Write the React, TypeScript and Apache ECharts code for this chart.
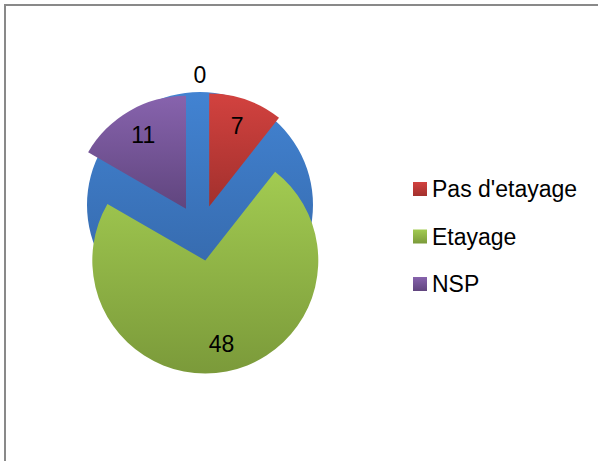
import React, { useEffect, useRef } from 'react';
import * as echarts from 'echarts';

const categories = ['Non renseigné', "Pas d'etayage", 'Etayage', 'NSP'];
const values = [0, 7, 48, 11];
const legendItems = ["Pas d'etayage", 'Etayage', 'NSP'];
const topColors = ['#4283d2', '#d2423f', '#a2cb51', '#8763ad'];
const bottomColors = ['#3364a4', '#a2302d', '#7b9a3a', '#60457e'];

const FONT = 'Liberation Sans';

function grad(i: number) {
  return new echarts.graphic.LinearGradient(0, 0, 0, 1, [
    { offset: 0, color: topColors[i] },
    { offset: 1, color: bottomColors[i] },
  ]);
}

export default function App() {
  const ref = useRef<HTMLDivElement>(null);
  useEffect(() => {
    if (!ref.current) return;
    const chart = echarts.init(ref.current, undefined, { renderer: 'svg' });
    const center = [200, 233];
    const R = 113;
    const explode = 28;
    chart.setOption({
      animation: false,
      backgroundColor: '#ffffff',
      graphic: [
        {
          type: 'rect',
          silent: true,
          shape: { x: 5, y: 5, width: 800, height: 700 },
          style: { fill: 'none', stroke: '#898989', lineWidth: 2 },
        },
      ],
      legend: {
        orient: 'vertical',
        left: 408,
        top: 171,
        icon: 'rect',
        itemWidth: 14,
        itemHeight: 14,
        itemGap: 21.5,
        data: legendItems,
        selectedMode: false,
        textStyle: { fontFamily: FONT, fontSize: 23, lineHeight: 26, color: '#000' },
      },
      series: [
        {
          type: 'pie',
          silent: true,
          center: [center[0], center[1] - explode],
          radius: R,
          startAngle: 90,
          stillShowZeroSum: true,
          label: { show: false },
          labelLine: { show: false },
          data: [{ name: categories[0], value: values[0], itemStyle: { color: grad(0) } }],
        },
        {
          type: 'pie',
          silent: true,
          center,
          radius: [0, R],
          startAngle: 90,
          clockwise: true,
          selectedMode: 'multiple',
          selectedOffset: explode,
          avoidLabelOverlap: false,
          label: { show: false },
          labelLine: { show: false },
          data: categories.map((n, i) => ({
            name: n,
            value: values[i],
            selected: true,
            itemStyle: { color: grad(i) },
          })).slice(1),
        },
        {
          type: 'pie',
          silent: true,
          center,
          radius: [52, R],
          startAngle: 90,
          clockwise: true,
          selectedMode: 'multiple',
          selectedOffset: explode,
          avoidLabelOverlap: false,
          itemStyle: { color: 'rgba(0,0,0,0)' },
          label: {
            show: true,
            position: 'inside',
            formatter: '{c}',
            fontFamily: FONT,
            fontSize: 23,
            color: '#000',
          },
          labelLine: { show: false, length: 17, length2: 0 },
          labelLayout: { align: 'center' },
          data: categories.map((n, i) => ({
            name: n,
            value: values[i],
            selected: true,
            label:
              values[i] === 0
                ? { position: 'outside', distanceToLabelLine: 0 }
                : undefined,
          })),
        },
      ],
    });
    return () => chart.dispose();
  }, []);
  return (
    <div
      ref={ref}
      style={{ position: 'fixed', left: 0, top: 0, width: 598, height: 461 }}
    />
  );
}
